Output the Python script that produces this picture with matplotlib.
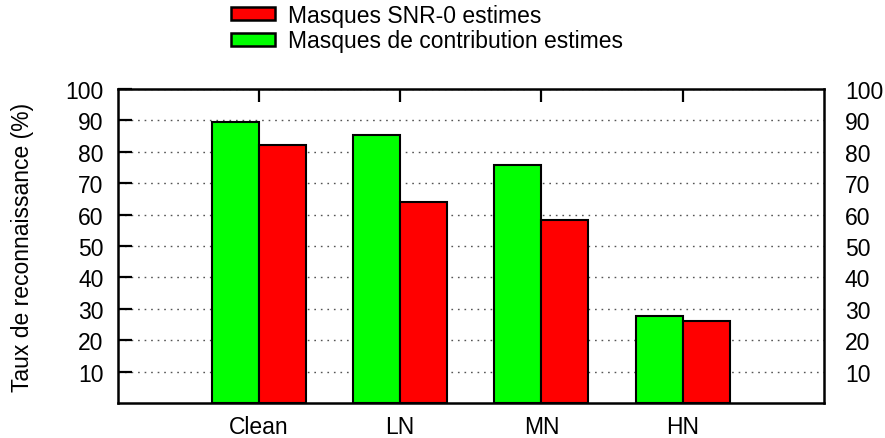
import matplotlib
matplotlib.use("Agg")
import matplotlib.pyplot as plt
import numpy as np
from matplotlib.patches import Patch

plt.rcParams['font.family'] = ['Liberation Sans', 'DejaVu Sans']

categories = ["Clean", "LN", "MN", "HN"]
contribution = [89.4, 85.4, 75.8, 27.8]
snr0 = [82.2, 64.1, 58.4, 26.2]
yticks = [10, 20, 30, 40, 50, 60, 70, 80, 90, 100]

green = "#00ff00"
red = "#ff0000"
fs = 16.5

fig = plt.figure(figsize=(8.85, 4.39), dpi=100)
W, H = 885, 439
left, right, top, bottom = 117.5, 824, 90, 404
ax = fig.add_axes([left / W, 1 - bottom / H, (right - left) / W, (bottom - top) / H])

x = np.arange(1, len(categories) + 1)
w = 1 / 3
ax.bar(x - w / 2, contribution, width=w, color=green, edgecolor="black", linewidth=1.5, zorder=3)
ax.bar(x + w / 2, snr0, width=w, color=red, edgecolor="black", linewidth=1.5, zorder=3)

ax.set_xlim(0, 5)
ax.set_ylim(0, 100)
ax.set_yticks(yticks)
ax.set_yticklabels([str(t) for t in yticks], fontsize=fs)
ax.set_xticks(x)
ax.set_xticklabels(categories, fontsize=fs)
ax.tick_params(axis='y', which='major', direction='in', length=10, width=1.6,
               left=True, right=True, labelleft=True, labelright=False, pad=10)
ax.tick_params(axis='x', direction='in', length=9, width=1.6, bottom=False, top=True,
               labelbottom=True, labeltop=False, pad=9)
for s in ax.spines.values():
    s.set_linewidth(1.8)
ax.yaxis.grid(True, linestyle=(0, (1.2, 3.5)), color="#555555", linewidth=1.0, zorder=0)
ax.set_axisbelow(True)

# right-side labels
ax2 = ax.twinx()
ax2.set_ylim(0, 100)
ax2.set_yticks(yticks)
ax2.set_yticklabels([str(t) for t in yticks], fontsize=fs)
ax2.tick_params(axis='y', direction='in', length=0, pad=15)
for s in ax2.spines.values():
    s.set_visible(False)

fig.text(23 / W, 1 - 247 / H, "Taux de reconnaissance (%)", rotation=90,
         ha="center", va="center", fontsize=fs)

handles = [Patch(facecolor=red, edgecolor="black", linewidth=1.8, label="Masques SNR-0 estimes"),
           Patch(facecolor=green, edgecolor="black", linewidth=1.8, label="Masques de contribution estimes")]
fig.legend(handles=handles, loc="upper left", bbox_to_anchor=(231 / W, 1 - 5 / H),
           frameon=False, fontsize=fs, handlelength=1.9, handleheight=0.5,
           labelspacing=0.1, handletextpad=0.6, borderaxespad=0, borderpad=0)

fig.savefig("out.png", dpi=100)
